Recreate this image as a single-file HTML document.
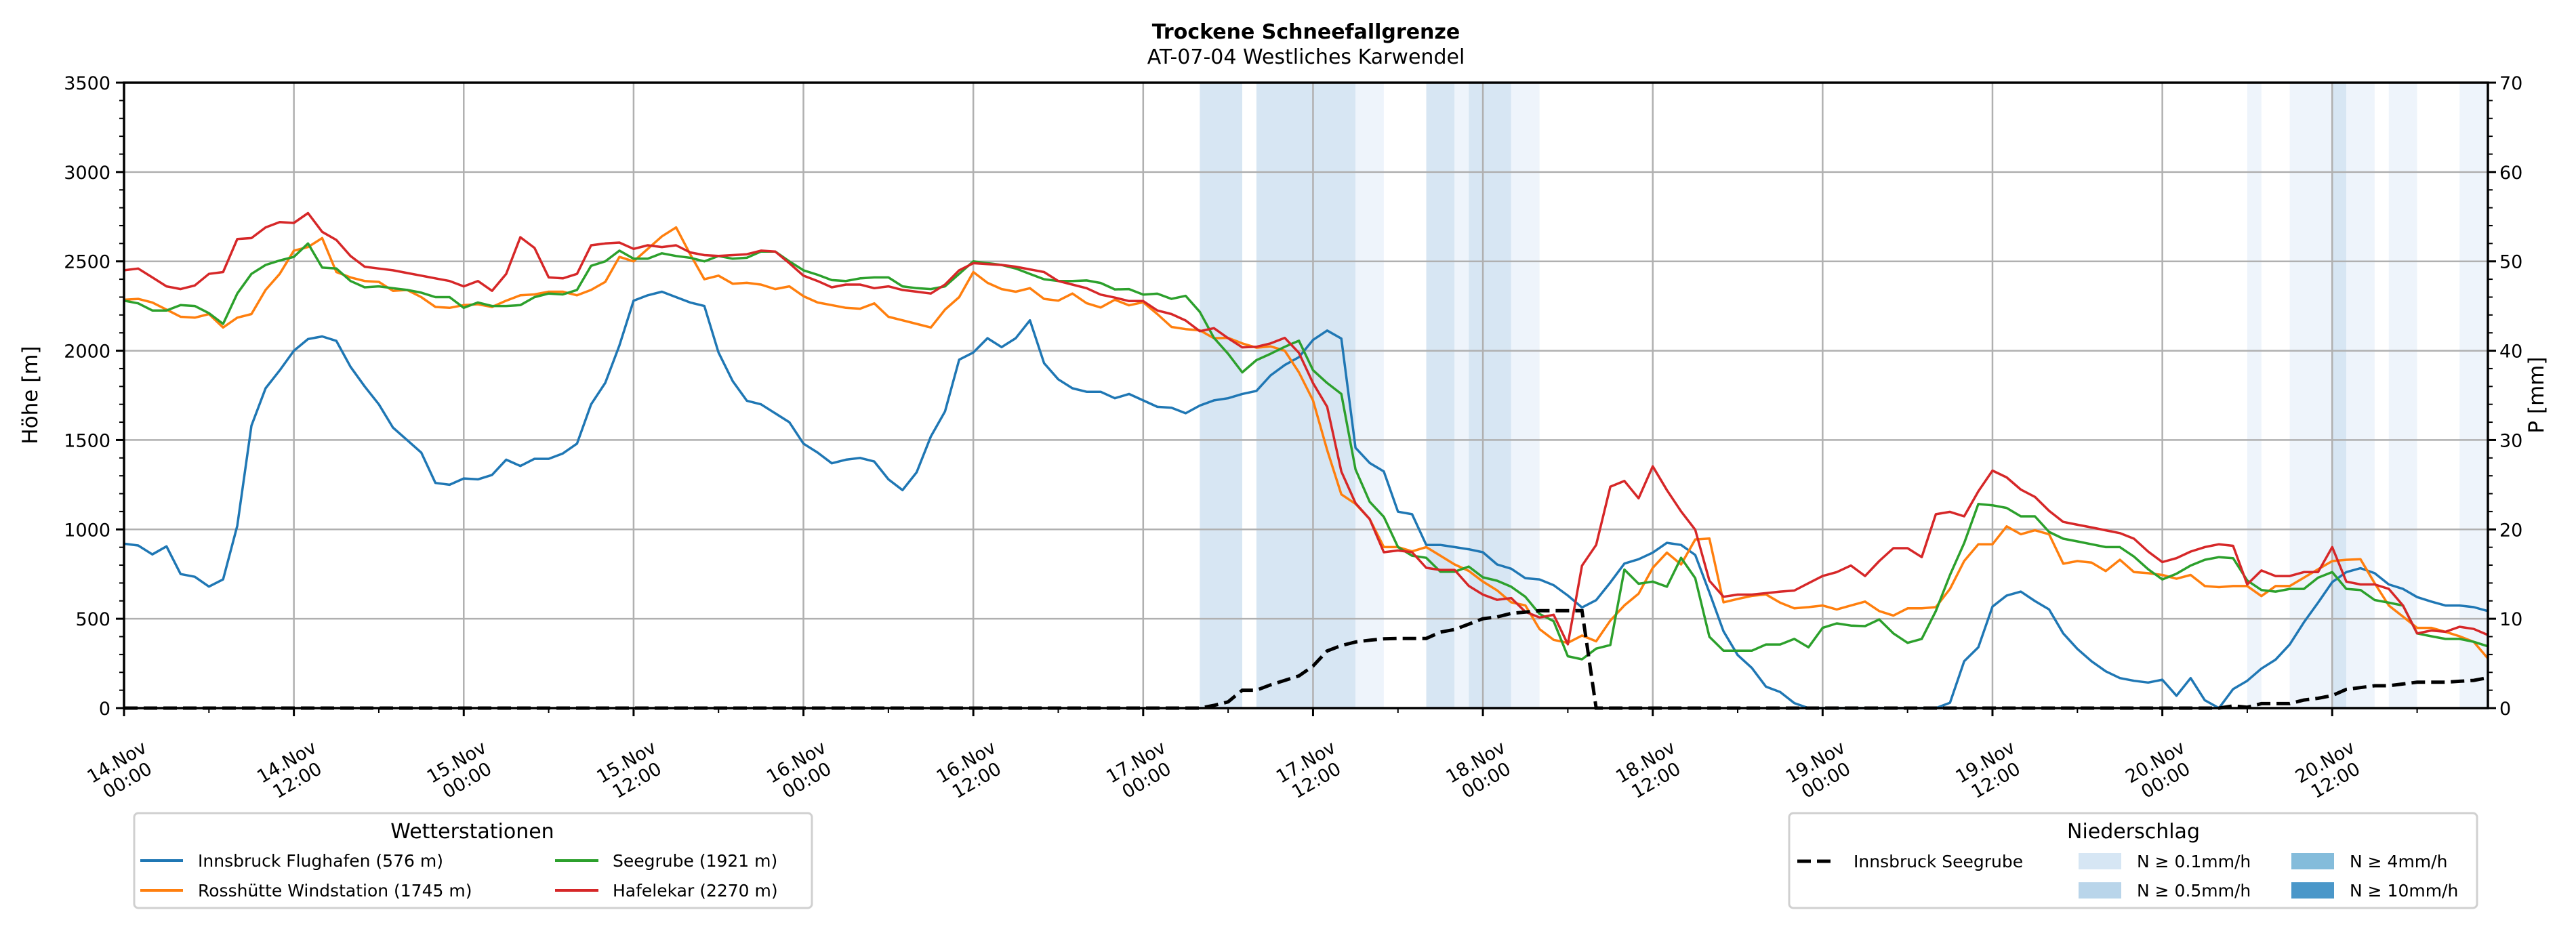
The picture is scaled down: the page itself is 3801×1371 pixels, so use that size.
<!DOCTYPE html>
<html><head><meta charset="utf-8">
<style>
html,body{margin:0;padding:0;background:#fff;}
svg{display:block;font-family:"DejaVu Sans","Liberation Sans",sans-serif;}
</style></head>
<body>
<svg id="chart" width="3801" height="1371" viewBox="0 0 3801 1371" xmlns="http://www.w3.org/2000/svg">
<rect width="3801" height="1371" fill="#fff"/>
<text x="1927" y="57" font-size="30" font-weight="bold" text-anchor="middle">Trockene Schneefallgrenze</text>
<text x="1927" y="94" font-size="30" text-anchor="middle">AT-07-04 Westliches Karwendel</text>
<g id="bands"></g><g id="grid"></g><g id="series"></g><g id="axes"></g>
<text transform="translate(55,583) rotate(-90)" font-size="31" text-anchor="middle">Höhe [m]</text>
<text transform="translate(3753,583) rotate(-90)" font-size="31" text-anchor="middle">P [mm]</text>
<g>
<rect x="198" y="1200" width="1000" height="140" rx="6" fill="#fff" stroke="#d0d0d0" stroke-width="3"/>
<text x="697" y="1237" font-size="30" text-anchor="middle">Wetterstationen</text>
<g><line x1="207" y1="1270" x2="270" y2="1270" stroke="#1f77b4" stroke-width="4"/><text x="292" y="1279" font-size="25">Innsbruck Flughafen (576 m)</text></g>
<g><line x1="207" y1="1314" x2="270" y2="1314" stroke="#ff7f0e" stroke-width="4"/><text x="292" y="1323" font-size="25">Rosshütte Windstation (1745 m)</text></g>
<g><line x1="819" y1="1270" x2="883" y2="1270" stroke="#2ca02c" stroke-width="4"/><text x="904" y="1279" font-size="25">Seegrube (1921 m)</text></g>
<g><line x1="819" y1="1314" x2="883" y2="1314" stroke="#d62728" stroke-width="4"/><text x="904" y="1323" font-size="25">Hafelekar (2270 m)</text></g>
</g>
<g>
<rect x="2640" y="1200" width="1015" height="140" rx="6" fill="#fff" stroke="#d0d0d0" stroke-width="3"/>
<text x="3148" y="1237" font-size="30" text-anchor="middle">Niederschlag</text>
<g><line x1="2652" y1="1271" x2="2707" y2="1271" stroke="#000" stroke-width="5" stroke-dasharray="20,9"/><text x="2735" y="1280" font-size="25">Innsbruck Seegrube</text></g>
<g><rect x="3067" y="1259" width="63" height="24" fill="#d6e6f4"/><text x="3153" y="1280" font-size="25">N ≥ 0.1mm/h</text></g>
<g><rect x="3067" y="1302" width="63" height="24" fill="#b9d5ea"/><text x="3153" y="1323" font-size="25">N ≥ 0.5mm/h</text></g>
<g><rect x="3381" y="1259" width="63" height="24" fill="#84bcdb"/><text x="3467" y="1280" font-size="25">N ≥ 4mm/h</text></g>
<g><rect x="3381" y="1302" width="63" height="24" fill="#4a97c9"/><text x="3467" y="1323" font-size="25">N ≥ 10mm/h</text></g>
</g>
</svg>
<script>
// hourly values starting 14.Nov 00:00
const innsbruck = [920,910,860,905,750,735,680,720,1020,1580,1790,1890,2000,2065,2080,2055,1910,1800,1700,1570,1500,1430,1260,1250,1285,1280,1305,1390,1355,1395,1395,1425,1480,1700,1820,2030,2280,2310,2330,2300,2270,2250,1990,1830,1720,1700,1650,1600,1480,1430,1370,1390,1400,1380,
1280,1220,1320,1520,1660,1950,1990,2070,2020,2070,2170,1930,1840,1790,1770,
1770,1734,1758,1722,1686,1681,1650,1693,1722,1734,1758,1775,1862,1920,1964,2060,2113,2068,1457,1372,1324,1099,1085,913,913,901,889,872,804,780,727,720,688,630,563,604,703,809,833,870,925,913,857,647,430,297,225,
120,90,28,0,0,0,0,0,0,0,0,0,0,
30,262,340,568,630,652,599,552,418,331,262,206,168,153,143,159,69,168,44,0,106,153,221,271,356,480,590,705,761,783,755,692,667,621,596,574,574,565,543];
const rosshuette = [2285,2290,2270,2230,2190,2185,2205,2130,2185,2205,2340,2430,2560,2580,2630,2440,2410,2390,2385,2335,2340,2300,2245,2240,2255,2260,2245,2280,2310,2315,2330,2330,2310,2340,2385,2525,2500,2570,2640,2690,2540,2400,2420,2375,2380,2370,2345,2360,2305,2270,2255,2240,2235,2265,
2190,2170,2150,2130,2230,2300,2440,2380,2345,2330,2350,2290,2280,2320,
2266,2242,2285,2254,2271,2205,2133,2121,2114,2070,2072,2041,2017,2024,2000,1879,1722,1444,1196,1143,1058,901,901,877,901,853,804,768,708,659,592,575,442,382,365,406,374,490,575,640,785,870,804,944,949,592,611,628,
636,590,558,565,574,552,574,596,543,518,558,558,565,667,823,917,917,1017,973,995,973,808,823,814,767,830,761,755,745,724,745,683,677,683,683,627,683,683,730,777,823,830,833,699,574,512,449,449,427,402,371,278];
const seegrube = [2280,2265,2225,2225,2255,2250,2210,2150,2320,2430,2480,2505,2525,2600,2465,2460,2390,2355,2360,2350,2340,2325,2300,2300,2240,2270,2250,2250,2255,2300,2320,2315,2340,2475,2500,2560,2515,2515,2545,2530,2520,2500,2530,2515,2520,2555,2555,2500,2450,2425,2395,2390,2405,2410,
2410,2360,2350,2345,2360,2430,2500,2490,2480,2460,2430,2400,2390,2390,
2393,2379,2343,2345,2314,2319,2290,2307,2217,2072,1983,1879,1947,1983,2022,2056,1891,1819,1758,1336,1155,1070,901,853,841,763,763,792,732,713,679,623,527,486,290,273,333,353,775,696,708,679,841,727,399,321,321,321,
356,356,387,340,449,474,462,459,496,418,365,387,543,745,923,1142,1135,1120,1073,1073,986,948,933,917,901,901,848,777,720,752,798,830,845,839,714,661,652,667,667,730,761,667,661,605,590,574,418,402,387,387,371,346];
const hafelekar = [2450,2460,2410,2360,2345,2365,2430,2440,2625,2630,2690,2720,2715,2770,2665,2620,2530,2470,2460,2450,2435,2420,2405,2390,2360,2390,2335,2430,2635,2575,2410,2405,2430,2590,2600,2605,2570,2590,2580,2590,2550,2535,2530,2535,2540,2560,2555,2490,2420,2390,2355,2370,2370,2350,
2360,2340,2330,2320,2370,2450,2490,2485,2480,2470,2455,2440,2390,2370,
2350,2314,2297,2278,2278,2225,2205,2169,2109,2126,2070,2019,2022,2041,2072,1988,1819,1686,1324,1147,1058,872,882,872,785,773,773,684,635,606,616,539,507,522,357,797,913,1239,1271,1174,1353,1220,1101,998,713,623,635,635,
643,652,658,699,739,761,798,739,823,895,895,845,1085,1098,1073,1213,1329,1291,1223,1182,1104,1042,1026,1011,995,979,948,876,817,839,876,901,917,908,692,770,739,739,761,761,901,708,692,692,667,574,418,434,427,455,443,409];
const precipSeegrube = [0,0,0,0,0,0,0,0,0,0,0,0,0,0,0,0,0,0,0,0,0,0,0,0,0,0,0,0,0,0,0,0,0,0,0,0,0,0,0,0,0,0,0,0,0,0,0,0,0,0,0,0,0,0,0,0,0,0,0,0,0,0,0,0,0,0,0,0,0,0,0,0,0,0,0,0,0,
0.3,0.7,2.0,2.0,2.6,3.1,3.6,4.7,6.4,7.0,7.4,7.6,7.75,7.8,7.8,7.8,8.5,8.8,9.4,10.0,10.2,10.6,10.75,10.9,10.9,10.9,10.9,
0,0,0,0,0,0,0,0,0,0,0,0,0,0,0,0,0,0,0,0,0,0,0,0,0,0,0,0,0,0,0,0,0,0,0,0,0,0,0,0,0,0,0,0,0,
0.25,0.1,0.5,0.5,0.5,0.9,1.1,1.4,2.1,2.3,2.5,2.5,2.7,2.9,2.9,2.9,3.0,3.1,3.4];
// precipitation intensity bands: start hour, end hour, level (1 = trace, 2 = >=0.1mm/h)
const bandStart = [76,80,87,92,94,95,98,150,153,156,157,160,165];
const bandEnd   = [79,87,89,94,95,98,100,151,156,157,159,162,167];
const bandLevel = [2,2,1,2,1,2,1,1,1,2,1,1,1];
const heightTicks = [0,500,1000,1500,2000,2500,3000,3500];
const precipTicks = [0,10,20,30,40,50,60,70];
const dayLabels = ["14.Nov","14.Nov","15.Nov","15.Nov","16.Nov","16.Nov","17.Nov","17.Nov","18.Nov","18.Nov","19.Nov","19.Nov","20.Nov","20.Nov"];
const timeLabels = ["00:00","12:00","00:00","12:00","00:00","12:00","00:00","12:00","00:00","12:00","00:00","12:00","00:00","12:00"];

const NS="http://www.w3.org/2000/svg";
const L=183,R=3671,T=122,B=1045,HMAX=167;
const xs=h=>L+(R-L)*h/HMAX;
const ys=v=>B-(B-T)*v/3500;
const yp=v=>B-(B-T)*v/70;
function mk(tag,attrs,parent){const e=document.createElementNS(NS,tag);for(const k in attrs)e.setAttribute(k,attrs[k]);parent.appendChild(e);return e;}
const gB=document.getElementById('bands'),gG=document.getElementById('grid'),gS=document.getElementById('series'),gA=document.getElementById('axes');

bandStart.forEach((s,i)=>{
  const r=mk('rect',{x:xs(s),y:T,width:xs(bandEnd[i])-xs(s),height:B-T,fill:bandLevel[i]===2?'#d7e6f3':'#eef4fb'},gB);
  
  
});
heightTicks.forEach(v=>{
  const l=mk('line',{x1:L,x2:R,y1:ys(v),y2:ys(v),stroke:'#b0b0b0','stroke-width':2.5},gG);
  
  
  const t=mk('text',{x:163,y:ys(v)+10,'font-size':27,'text-anchor':'end'},gA);t.textContent=v;
  
  
  mk('line',{x1:L-12,x2:L,y1:ys(v),y2:ys(v),stroke:'#000','stroke-width':3},gA);
});
for(let v=0;v<=3500;v+=100){mk('line',{x1:L-7,x2:L,y1:ys(v),y2:ys(v),stroke:'#000','stroke-width':2},gA);}
precipTicks.forEach(v=>{
  const t=mk('text',{x:3688,y:yp(v)+10,'font-size':27},gA);t.textContent=v;
  
  
  mk('line',{x1:R,x2:R+12,y1:yp(v),y2:yp(v),stroke:'#000','stroke-width':3},gA);
});
for(let v=0;v<=70;v+=2){mk('line',{x1:R,x2:R+7,y1:yp(v),y2:yp(v),stroke:'#000','stroke-width':2},gA);}
dayLabels.forEach((d,i)=>{
  const h=i*12,x=xs(h);
  const l=mk('line',{x1:x,x2:x,y1:T,y2:B,stroke:'#b0b0b0','stroke-width':2.5},gG);
  
  
  mk('line',{x1:x,x2:x,y1:B,y2:B+12,stroke:'#000','stroke-width':3},gA);
  const t=mk('text',{transform:`translate(${x-4},1136) rotate(-30)`,'font-size':27,'text-anchor':'middle'},gA);
  
  
  const s1=mk('tspan',{x:0,dy:-4},t);s1.textContent=d;
  const s2=mk('tspan',{x:0,dy:31},t);s2.textContent=timeLabels[i];
});
for(let h=6;h<=HMAX;h+=12){mk('line',{x1:xs(h),x2:xs(h),y1:B,y2:B+7,stroke:'#000','stroke-width':2},gA);}

function series(arr,color,name,yf,extra){
  const p=mk('polyline',Object.assign({points:arr.map((v,i)=>xs(i).toFixed(1)+','+yf(v).toFixed(1)).join(' '),fill:'none',stroke:color,'stroke-width':3.5,'stroke-linejoin':'round'},extra||{}),gS);
  
  
}
series(innsbruck,'#1f77b4','innsbruck-flughafen-line',ys);
series(rosshuette,'#ff7f0e','rosshuette-line',ys);
series(seegrube,'#2ca02c','seegrube-line',ys);
series(hafelekar,'#d62728','hafelekar-line',ys);
series(precipSeegrube,'#000','precip-seegrube-line',yp,{'stroke-width':5,'stroke-dasharray':'20,9','stroke-linejoin':'miter'});

const frame=mk('rect',{x:L,y:T,width:R-L,height:B-T,fill:'none',stroke:'#000','stroke-width':3.5},gA);


</script>
</body></html>
